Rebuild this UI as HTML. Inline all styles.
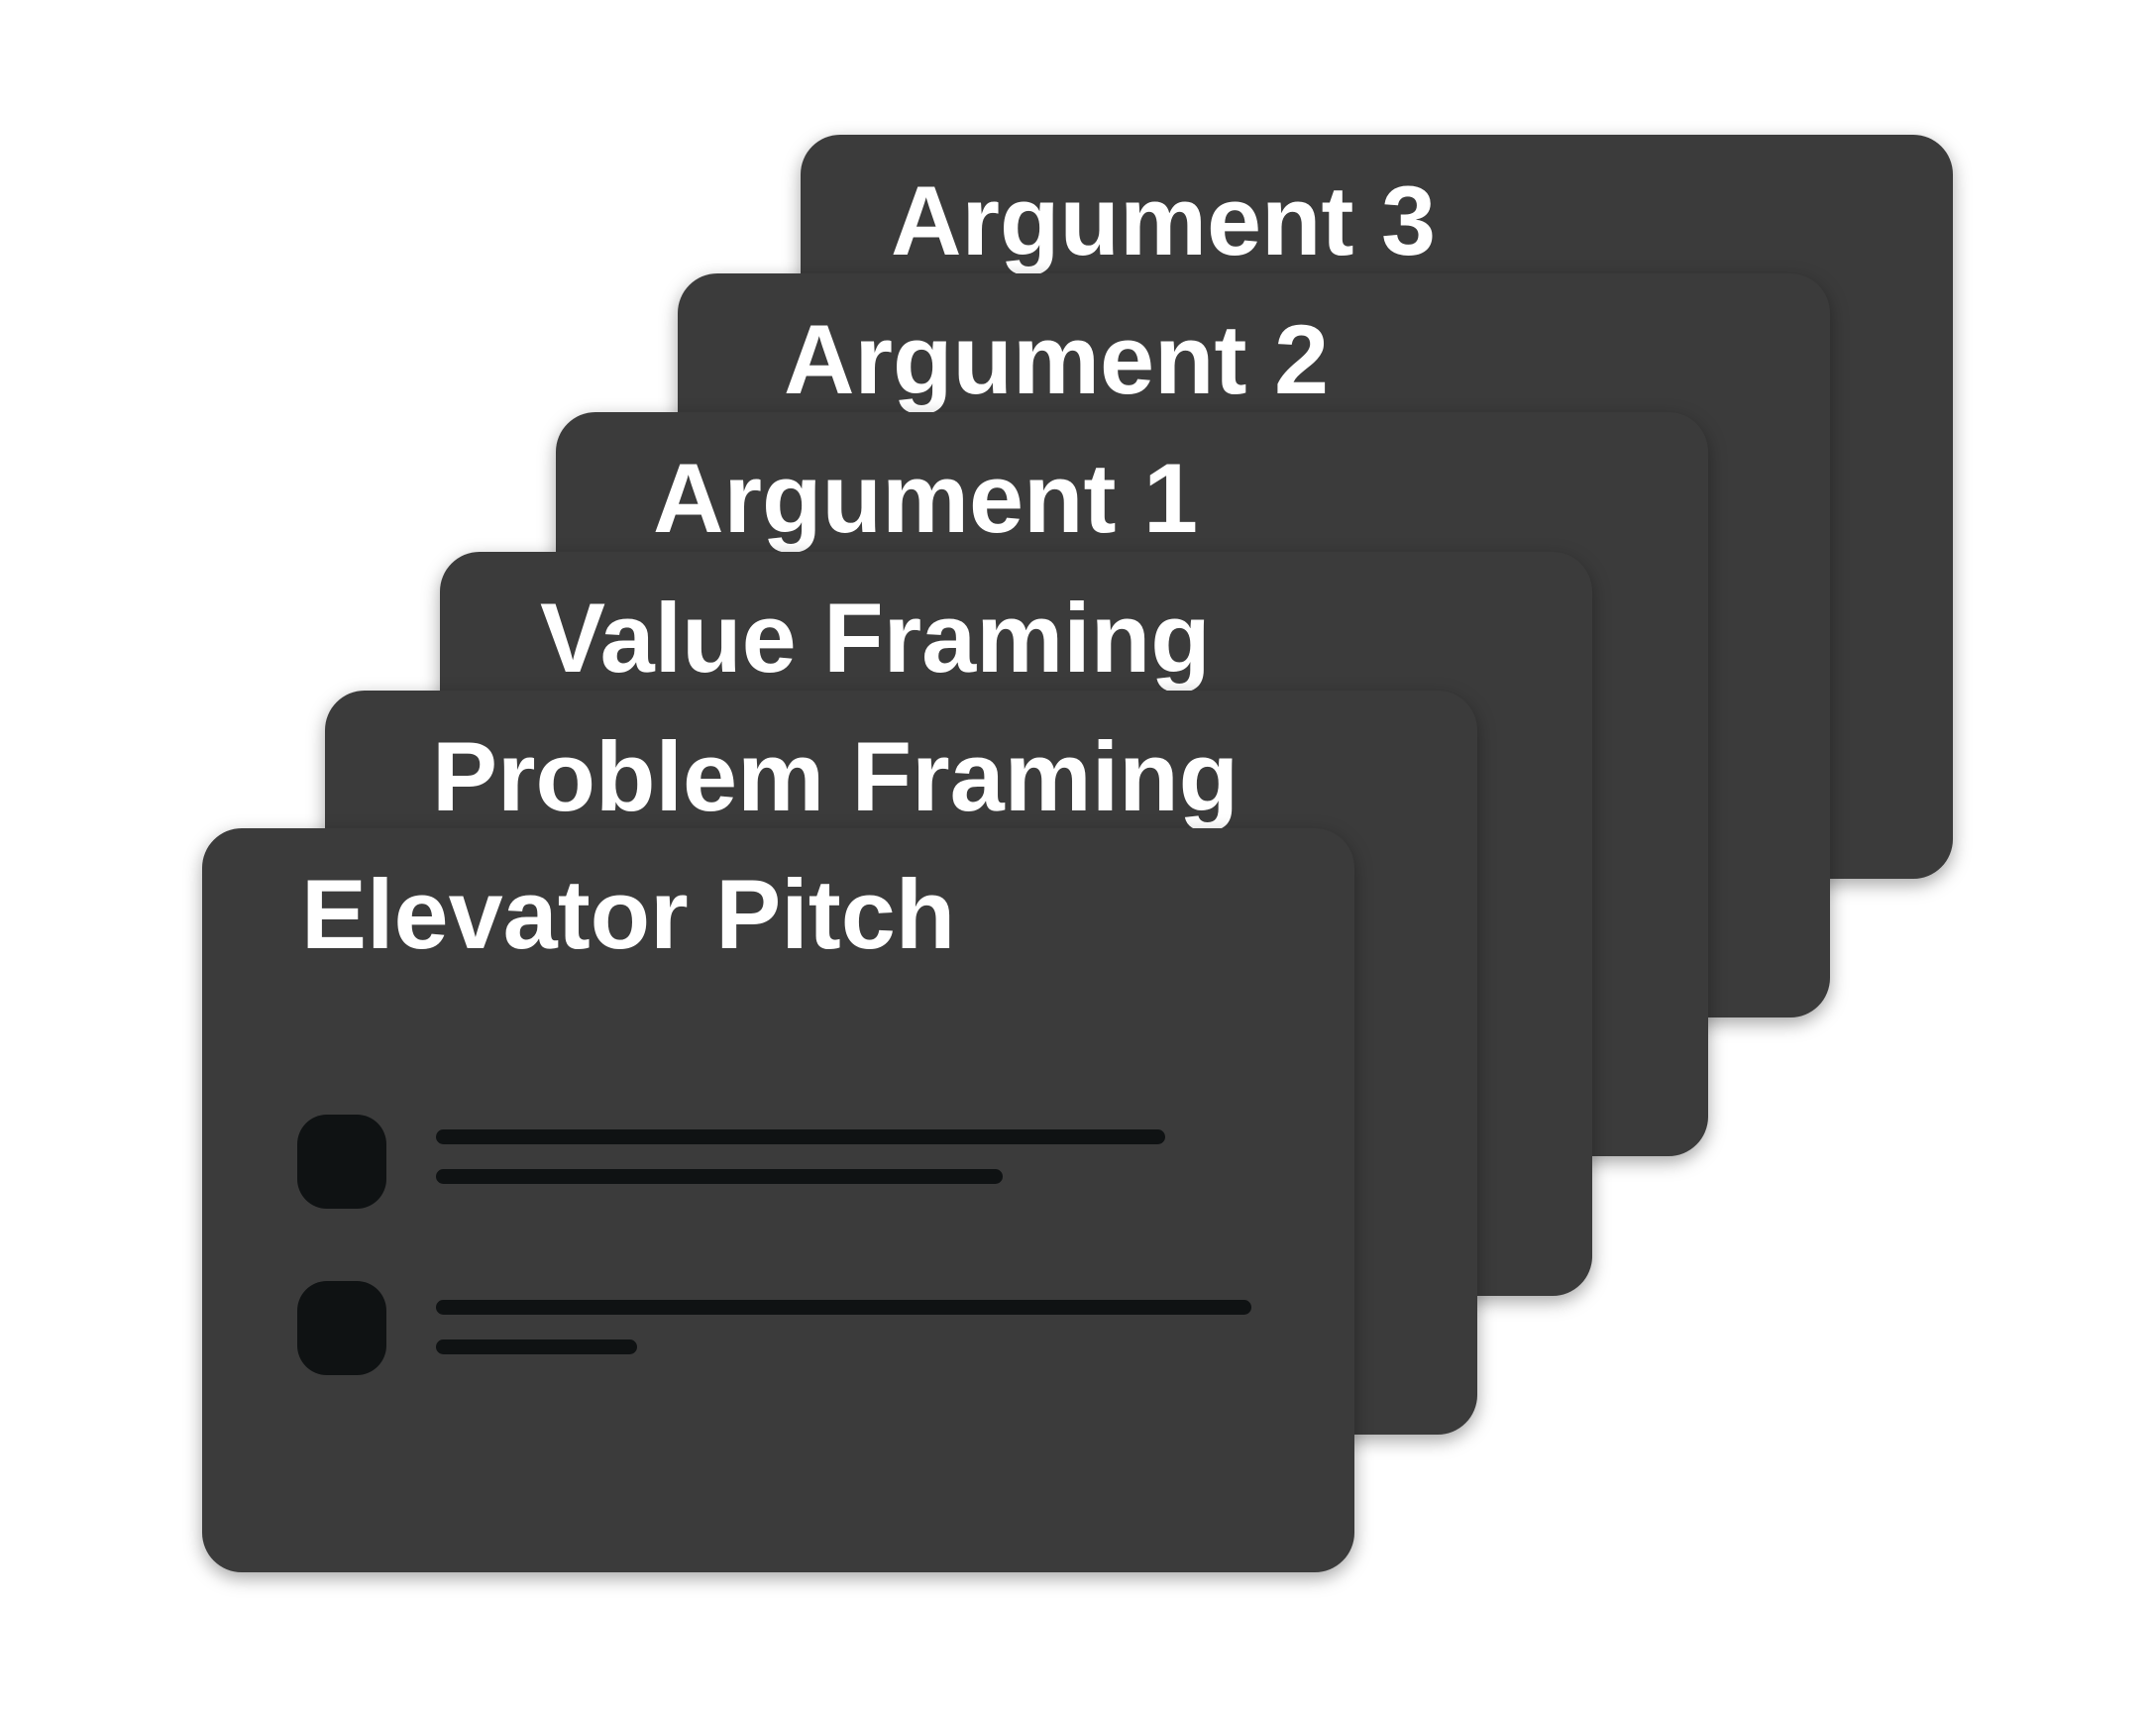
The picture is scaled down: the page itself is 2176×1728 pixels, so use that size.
<!DOCTYPE html>
<html><head><meta charset="utf-8"><style>
html,body{margin:0;padding:0;background:#fff;width:2176px;height:1728px;overflow:hidden}
.c{position:absolute;width:1163px;height:751px;background:#3b3b3b;border-radius:40px;box-shadow:0 6px 18px rgba(0,0,0,0.35)}
.t{position:absolute;top:37px;font-family:"Liberation Sans",sans-serif;font-weight:bold;font-size:99px;color:#fff;line-height:100px;white-space:nowrap}
.b{position:absolute;left:96px;width:90px;height:95px;background:#0f1213;border-radius:30px}
.l{position:absolute;left:236px;height:15px;background:#0f1213;border-radius:8px}
</style></head><body>
<div class="c" style="left:808px;top:136px"><div class="t" style="left:91px">Argument 3</div></div>
<div class="c" style="left:684px;top:276px"><div class="t" style="left:107px">Argument 2</div></div>
<div class="c" style="left:561px;top:416px"><div class="t" style="left:98px">Argument 1</div></div>
<div class="c" style="left:444px;top:557px"><div class="t" style="left:101px">Value Framing</div></div>
<div class="c" style="left:328px;top:697px"><div class="t" style="left:108px">Problem Framing</div></div>
<div class="c" style="left:204px;top:836px"><div class="t" style="left:100px">Elevator Pitch</div>
<div class="b" style="top:289px"></div>
<div class="l" style="top:304px;width:736px"></div>
<div class="l" style="top:344px;width:572px"></div>
<div class="b" style="top:457px"></div>
<div class="l" style="top:476px;width:823px"></div>
<div class="l" style="top:516px;width:203px"></div>
</div>
</body></html>
